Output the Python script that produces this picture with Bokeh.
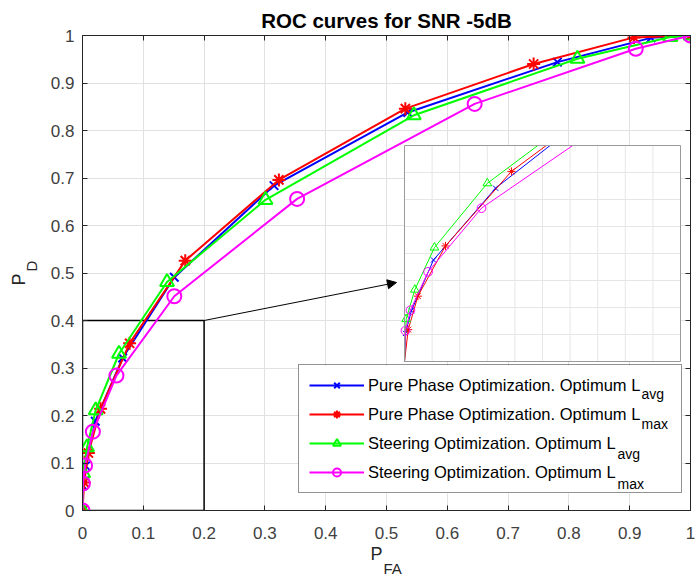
import numpy as np
from bokeh.plotting import figure
from bokeh.models import (Range1d, LinearAxis, Arrow, NormalHead, Legend,
                          LegendItem, FixedTicker, Title)
from bokeh.core.properties import value
from bokeh.embed import file_html
from bokeh.resources import INLINE

# ---------------- data ----------------
title_text = "ROC curves for SNR -5dB"
x_label_main, x_label_sub = "P", "FA"
y_label_main, y_label_sub = "P", "D"
tick_values = [0, 0.1, 0.2, 0.3, 0.4, 0.5, 0.6, 0.7, 0.8, 0.9, 1]
tick_labels = ["0", "0.1", "0.2", "0.3", "0.4", "0.5", "0.6", "0.7", "0.8", "0.9", "1"]

series_names = ["Pure Phase Optimization. Optimum L",
                "Pure Phase Optimization. Optimum L",
                "Steering Optimization. Optimum L",
                "Steering Optimization. Optimum L"]
series_subs = ["avg", "max", "avg", "max"]

pp_avg_pfa = [0, 0.0007, 0.005, 0.021, 0.066, 0.151, 0.315, 0.535, 0.781, 0.935, 1.0]
pp_avg_pd = [0, 0.052, 0.094, 0.188, 0.321, 0.491, 0.684, 0.838, 0.944, 0.995, 1.0]
pp_max_pfa = [0, 0.0027, 0.0097, 0.0297, 0.0775, 0.169, 0.323, 0.531, 0.742, 0.907, 1.0]
pp_max_pd = [0, 0.059, 0.121, 0.214, 0.352, 0.526, 0.696, 0.846, 0.940, 0.996, 1.0]
st_avg_pfa = [0, 0.0012, 0.0075, 0.0217, 0.060, 0.139, 0.301, 0.545, 0.814, 0.967, 1.0]
st_avg_pd = [0, 0.0785, 0.133, 0.211, 0.330, 0.481, 0.654, 0.832, 0.951, 0.997, 1.0]
st_max_pfa = [0, 0.0007, 0.0043, 0.0171, 0.0558, 0.151, 0.353, 0.645, 0.910, 1.0]
st_max_pd = [0, 0.057, 0.095, 0.166, 0.284, 0.451, 0.656, 0.856, 0.972, 1.0]

inset_xlim = [0, 0.2]
inset_ylim = [0, 0.4]

# ---------------- layout ----------------
W, H = 698, 580
FL, FR, FT, FB = 82, 690, 35, 510          # frame box in pixels
IL, IR, IT, IB = 404, 680, 145, 361        # inset box in pixels
LL, LR, LT, LB = 298, 682, 365, 493        # legend box in pixels


def px2x(px):
    return (px - FL) / (FR - FL)


def py2y(py):
    return (FB - py) / (FB - FT)


FONT = "Liberation Sans"
AX_COL = "#262626"

p = figure(width=W, height=H, x_range=Range1d(0, 1), y_range=Range1d(0, 1),
           output_backend="svg", toolbar_location=None, title=title_text,
           min_border_left=FL, min_border_right=W - FR,
           min_border_top=FT, min_border_bottom=H - FB)
p.outline_line_color = AX_COL
p.background_fill_color = "white"
p.border_fill_color = "white"
p.title.align = "center"
p.title.vertical_align = "top"
p.title.text_font = FONT
p.title.text_font_size = "20.5px"
p.title.text_font_style = "bold"
p.title.text_color = "black"
p.title.standoff = 4

ticker = FixedTicker(ticks=tick_values)
overrides = {t: l for t, l in zip(tick_values, tick_labels)}
for ax in (p.xaxis[0], p.yaxis[0]):
    ax.ticker = ticker
    ax.major_label_overrides = overrides
    ax.major_tick_in = 5
    ax.major_tick_out = 0
    ax.minor_tick_in = 0
    ax.minor_tick_out = 0
    ax.axis_line_color = AX_COL
    ax.major_tick_line_color = AX_COL
    ax.major_label_text_font = FONT
    ax.major_label_text_font_size = "17px"
    ax.major_label_text_color = "#404040"
p.xaxis.major_label_standoff = 16
p.yaxis.major_label_standoff = 8

for loc in ("right", "above"):
    ax = LinearAxis(ticker=FixedTicker(ticks=tick_values),
                    major_label_text_font_size="1px", major_label_text_color=None,
                    major_label_standoff=0,
                    major_tick_in=5, major_tick_out=0, minor_tick_in=0, minor_tick_out=0,
                    axis_line_color=AX_COL, major_tick_line_color=AX_COL)
    p.add_layout(ax, loc)

for g in (p.xgrid[0], p.ygrid[0]):
    g.ticker = ticker
    g.grid_line_color = "#e1e1e1"
    g.grid_line_width = 1

# axis labels with subscripts (stacked side titles)
p.add_layout(Title(text=y_label_sub, align="left", offset=239, vertical_align="top", standoff=11,
                   text_font=FONT, text_font_size="15px", text_font_style="normal",
                   text_color=AX_COL), "left")
p.add_layout(Title(text=y_label_main, align="left", offset=225, vertical_align="bottom", standoff=-22,
                   text_font=FONT, text_font_size="18px", text_font_style="normal",
                   text_color=AX_COL), "left")
p.add_layout(Title(text=x_label_main, align="left", offset=288, vertical_align="top", standoff=4,
                   text_font=FONT, text_font_size="18px", text_font_style="normal",
                   text_color=AX_COL), "below")
p.add_layout(Title(text=x_label_sub, align="left", offset=301, vertical_align="top", standoff=-15,
                   text_font=FONT, text_font_size="15px", text_font_style="normal",
                   text_color=AX_COL), "below")

# zoom box in main axes
p.quad(left=[inset_xlim[0]], right=[inset_xlim[1]], bottom=[inset_ylim[0]], top=[inset_ylim[1]],
       fill_color=None, line_color="black", line_width=1.5)

series = [
    (pp_avg_pfa, pp_avg_pd, "#0000ff", "x", 12),
    (pp_max_pfa, pp_max_pd, "#ff0000", "asterisk", 13),
    (st_avg_pfa, st_avg_pd, "#00ff00", "triangle", 14),
    (st_max_pfa, st_max_pd, "#ff00ff", "circle", 14),
]

items = []
for (xs, ys, col, mk, sz), name in zip(series, series_names):
    lr = p.line(xs, ys, line_color=col, line_width=2)
    mr = p.scatter(xs, ys, marker=mk, size=sz, line_color=col, fill_color=None, line_width=2)
    items.append(LegendItem(label=name, renderers=[lr, mr]))

# ---------------- inset ----------------
fx0 = (IL - FL) / (FR - FL)
fx1 = (IR - FL) / (FR - FL)
fy0 = (FB - IB) / (FB - FT)
fy1 = (FB - IT) / (FB - FT)
sx = (inset_xlim[1] - inset_xlim[0]) / (fx1 - fx0)
sy = (inset_ylim[1] - inset_ylim[0]) / (fy1 - fy0)
ixs = inset_xlim[0] - fx0 * sx
iys = inset_ylim[0] - fy0 * sy
p.extra_x_ranges = {"ix": Range1d(ixs, ixs + sx)}
p.extra_y_ranges = {"iy": Range1d(iys, iys + sy)}

p.quad(left=[inset_xlim[0]], right=[inset_xlim[1]], bottom=[inset_ylim[0]], top=[inset_ylim[1]],
       fill_color="white", line_color=None, x_range_name="ix", y_range_name="iy")
gxs = list(np.linspace(inset_xlim[0], inset_xlim[1], 11)[1:-1])
gys = list(np.linspace(inset_ylim[0], inset_ylim[1], 9)[1:-1])
p.segment(x0=gxs, y0=[inset_ylim[0]] * len(gxs), x1=gxs, y1=[inset_ylim[1]] * len(gxs),
          line_color="#e6e6e6", line_width=1, x_range_name="ix", y_range_name="iy")
p.segment(x0=[inset_xlim[0]] * len(gys), y0=gys, x1=[inset_xlim[1]] * len(gys), y1=gys,
          line_color="#e6e6e6", line_width=1, x_range_name="ix", y_range_name="iy")


def clip_poly(xs, ys, x0, x1, y0, y1):
    ox, oy = [], []
    for i in range(len(xs) - 1):
        ax_, ay_, bx_, by_ = xs[i], ys[i], xs[i + 1], ys[i + 1]
        dx, dy = bx_ - ax_, by_ - ay_
        t0, t1 = 0.0, 1.0
        ok = True
        for pp_, qq in ((-dx, ax_ - x0), (dx, x1 - ax_), (-dy, ay_ - y0), (dy, y1 - ay_)):
            if pp_ == 0:
                if qq < 0:
                    ok = False
                    break
            else:
                r = qq / pp_
                if pp_ < 0:
                    t0 = max(t0, r)
                else:
                    t1 = min(t1, r)
        if not ok or t0 > t1:
            continue
        cx0, cy0 = ax_ + t0 * dx, ay_ + t0 * dy
        cx1, cy1 = ax_ + t1 * dx, ay_ + t1 * dy
        if ox and abs(ox[-1] - cx0) < 1e-12 and abs(oy[-1] - cy0) < 1e-12:
            ox.append(cx1)
            oy.append(cy1)
        else:
            if ox:
                ox.append(float("nan"))
                oy.append(float("nan"))
            ox += [cx0, cx1]
            oy += [cy0, cy1]
    return ox, oy


for xs, ys, col, mk, sz in series:
    cx, cy = clip_poly(xs, ys, inset_xlim[0], inset_xlim[1], inset_ylim[0], inset_ylim[1])
    p.line(cx, cy, line_color=col, line_width=1, x_range_name="ix", y_range_name="iy")
    inside = [(x, y) for x, y in zip(xs, ys)
              if inset_xlim[0] < x <= inset_xlim[1] and inset_ylim[0] < y <= inset_ylim[1]]
    p.scatter([q[0] for q in inside], [q[1] for q in inside], marker=mk, size=sz * 0.62,
              line_color=col, fill_color=None, line_width=1,
              x_range_name="ix", y_range_name="iy")

p.quad(left=[inset_xlim[0]], right=[inset_xlim[1]], bottom=[inset_ylim[0]], top=[inset_ylim[1]],
       fill_color=None, line_color="#9a9a9a", line_width=1, x_range_name="ix", y_range_name="iy")

p.add_layout(Arrow(end=NormalHead(size=9, fill_color="black", line_color="black", line_width=1),
                   x_start=inset_xlim[1], y_start=inset_ylim[1],
                   x_end=px2x(396), y_end=py2y(282), line_color="black", line_width=1))

# ---------------- legend ----------------
# white backing of the legend box (drawn as a glyph so the subscripts can sit on top of it)
p.quad(left=[px2x(LL)], right=[px2x(LR)], bottom=[py2y(LB)], top=[py2y(LT)],
       fill_color="white", line_color=None)
sub_pos = [(641, 393), (641, 423), (617, 453), (617, 483)]
p.text(x=[px2x(q[0]) for q in sub_pos], y=[py2y(q[1]) for q in sub_pos], text=series_subs,
       text_font=value(FONT), text_font_size="14px", text_color="black",
       text_align="left", text_baseline="alphabetic")

legend = Legend(items=items, location=(LL - FL, FB - LB), orientation="vertical",
                label_text_font=FONT, label_text_font_size="16.5px", label_text_color="black",
                glyph_width=55, glyph_height=20, label_height=20, label_width=303,
                label_standoff=4, padding=10, spacing=9, margin=0,
                border_line_color=AX_COL, border_line_width=1,
                background_fill_alpha=0.0)
p.add_layout(legend)

open("out.html", "w").write(file_html(p, INLINE))
